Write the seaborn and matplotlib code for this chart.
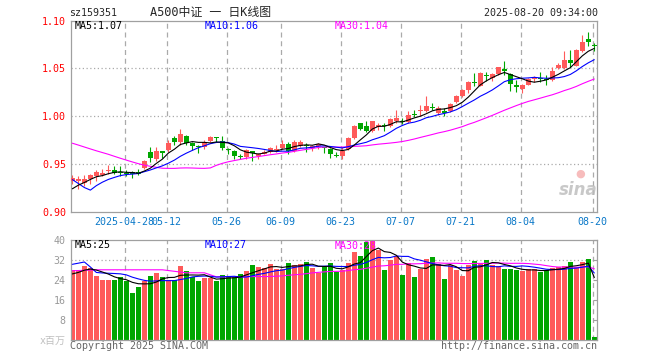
import numpy as np
import pandas as pd
import matplotlib
matplotlib.use("Agg")
import matplotlib.pyplot as plt
import seaborn as sns

# ---------------- data ----------------
# closes of the 29 sessions before the window (used only for moving averages)
hist_close = [0.992, 0.995, 0.998, 1.001, 0.996, 0.999, 1.004, 1.002, 0.998, 0.997,
              0.995, 0.999, 0.993, 0.995, 0.991, 0.976, 0.973, 0.970, 0.968, 0.973,
              0.975, 0.976, 0.965, 0.895, 0.905, 0.915, 0.920, 0.922, 0.928]
hist_vol = [25.1, 26.5, 25.8, 22.7, 24.0, 24.0, 24.0, 25.2, 23.5, 18.8,
            21.2, 23.7, 25.5, 26.9, 25.1, 32.9, 33.0, 38.6, 36.5, 25.2,
            23.6, 24.8, 48.8, 47.5, 26.0, 25.1, 25.1, 26.5, 27.7]

open_ = [0.932, 0.932, 0.930, 0.934, 0.937, 0.938, 0.943, 0.944, 0.942, 0.941,
         0.941, 0.942, 0.946, 0.962, 0.955, 0.963, 0.965, 0.977, 0.973, 0.979,
         0.972, 0.969, 0.968, 0.974, 0.9775, 0.974, 0.966, 0.964, 0.958, 0.957,
         0.963, 0.958, 0.960, 0.963, 0.965, 0.967, 0.971, 0.964, 0.969, 0.970,
         0.967, 0.969, 0.968, 0.966, 0.959, 0.958, 0.966, 0.977, 0.993, 0.990,
         0.984, 0.989, 0.991, 0.990, 0.995, 0.995, 0.994, 1.002, 1.005, 1.005,
         1.010, 1.003, 1.005, 1.005, 1.015, 1.021, 1.027, 1.036, 1.032, 1.043,
         1.040, 1.044, 1.049, 1.044, 1.033, 1.028, 1.033, 1.039, 1.040, 1.039,
         1.038, 1.050, 1.050, 1.059, 1.053, 1.068, 1.081, 1.075]
high = [0.938, 0.937, 0.938, 0.939, 0.944, 0.945, 0.949, 0.948, 0.948, 0.944,
        0.943, 0.945, 0.9545, 0.968, 0.968, 0.964, 0.975, 0.979, 0.987, 0.980,
        0.973, 0.970, 0.975, 0.979, 0.978, 0.979, 0.967, 0.965, 0.960, 0.966,
        0.964, 0.961, 0.965, 0.968, 0.970, 0.975, 0.973, 0.975, 0.975, 0.972,
        0.970, 0.972, 0.968, 0.967, 0.963, 0.968, 0.978, 0.991, 0.993, 0.995,
        0.995, 0.993, 0.993, 0.998, 1.007, 0.998, 1.005, 1.007, 1.012, 1.021,
        1.014, 1.011, 1.009, 1.014, 1.022, 1.028, 1.037, 1.045, 1.046, 1.046,
        1.045, 1.051, 1.058, 1.045, 1.038, 1.034, 1.040, 1.042, 1.046, 1.043,
        1.051, 1.056, 1.068, 1.069, 1.070, 1.085, 1.088, 1.077]
low = [0.929, 0.924, 0.927, 0.929, 0.932, 0.937, 0.940, 0.939, 0.937, 0.937,
       0.935, 0.938, 0.945, 0.952, 0.953, 0.956, 0.963, 0.970, 0.970, 0.970,
       0.965, 0.961, 0.966, 0.973, 0.973, 0.965, 0.960, 0.955, 0.955, 0.955,
       0.953, 0.955, 0.960, 0.961, 0.963, 0.966, 0.960, 0.963, 0.968, 0.963,
       0.964, 0.966, 0.961, 0.956, 0.957, 0.955, 0.965, 0.976, 0.986, 0.983,
       0.983, 0.986, 0.985, 0.989, 0.993, 0.992, 0.993, 0.999, 1.000, 1.004,
       1.007, 1.001, 1.000, 1.004, 1.014, 1.020, 1.024, 1.032, 1.032, 1.037,
       1.037, 1.043, 1.043, 1.026, 1.025, 1.024, 1.033, 1.036, 1.036, 1.033,
       1.037, 1.049, 1.049, 1.052, 1.053, 1.067, 1.074, 1.068]
close = [0.935, 0.934, 0.934, 0.938, 0.942, 0.941, 0.944, 0.941, 0.941, 0.939,
         0.940, 0.940, 0.953, 0.956, 0.964, 0.962, 0.972, 0.973, 0.981, 0.972,
         0.969, 0.968, 0.973, 0.978, 0.977, 0.967, 0.965, 0.958, 0.957, 0.965,
         0.962, 0.960, 0.963, 0.967, 0.966, 0.971, 0.964, 0.973, 0.973, 0.969,
         0.969, 0.971, 0.967, 0.960, 0.958, 0.964, 0.977, 0.990, 0.987, 0.984,
         0.995, 0.991, 0.990, 0.997, 0.998, 0.994, 1.001, 1.001, 1.006, 1.011,
         1.009, 1.009, 1.003, 1.013, 1.021, 1.027, 1.036, 1.035, 1.045, 1.042,
         1.044, 1.051, 1.047, 1.034, 1.031, 1.033, 1.039, 1.041, 1.039, 1.038,
         1.047, 1.054, 1.059, 1.056, 1.069, 1.078, 1.078, 1.074]
volume = [27.9, 28.1, 29.5, 28.8, 25.7, 24.0, 24.0, 24.0, 25.2, 23.5,
          18.8, 21.2, 23.7, 25.5, 26.9, 25.1, 23.9, 24.0, 29.6, 27.5,
          25.2, 23.6, 24.8, 24.8, 23.5, 26.0, 25.1, 25.1, 26.5, 27.7,
          30.1, 29.2, 28.8, 30.5, 28.4, 28.4, 30.9, 30.1, 30.5, 31.3,
          28.9, 26.9, 29.6, 31.0, 27.1, 27.9, 30.9, 35.2, 33.7, 39.2,
          39.7, 36.1, 28.1, 32.1, 33.5, 26.1, 30.8, 25.3, 28.5, 32.6,
          33.1, 30.6, 24.5, 30.2, 28.2, 25.5, 30.2, 31.5, 31.0, 32.2,
          30.2, 29.5, 28.3, 28.3, 27.9, 27.5, 28.3, 28.3, 27.1, 27.9,
          29.0, 29.4, 29.8, 31.2, 29.2, 31.2, 32.4, 1.1]

tick_index = [9, 16, 26, 35, 45, 55, 65, 75, 87]
tick_labels = ["2025-04-28", "05-12", "05-26", "06-09", "06-23",
               "07-07", "07-21", "08-04", "08-20"]
price_ticks = [0.90, 0.95, 1.00, 1.05, 1.10]
vol_ticks = [0, 8, 16, 24, 32, 40]
vol_tick_labels = ["x百万", "8", "16", "24", "32", "40"]

# ---------------- style ----------------
sns.set_style("white")
plt.rcParams['font.family'] = ['DejaVu Sans Mono', 'Noto Sans CJK SC']
RED = "#ff5a5a"
GREEN = "#00a600"
GRID = "#aaaaaa"
FRAME = "#a0a0a0"
FS = 7.2

W, H = 660, 360
fig = plt.figure(figsize=(6.6, 3.6), dpi=100)
fig.patch.set_facecolor("white")


def fx(x):
    return x / W


def fy(y):
    return 1 - y / H


L, R = 70.7, 597.3
axp = fig.add_axes([fx(L), fy(211.7), (R - L) / W, (211.7 - 20.7) / H])
axv = fig.add_axes([fx(L), fy(340.2), (R - L) / W, (340.2 - 240.0) / H])

n = len(close)
idx = np.arange(n)
o = np.array(open_)
c = np.array(close)
hi = np.array(high)
lo = np.array(low)
v = np.array(volume)
up = c >= o
cols = np.where(up, RED, GREEN)

all_c = pd.Series(hist_close + close)
all_v = pd.Series(hist_vol + volume)
k = len(hist_close)
ma = {w: all_c.rolling(w).mean().iloc[k:].to_numpy() for w in (5, 10, 30)}
vma = {w: all_v.rolling(w).mean().iloc[k:].to_numpy() for w in (5, 10, 30)}
ma_cols = {5: "black", 10: "#0000ff", 30: "#ff00ff"}

XMIN, XMAX = -0.28, 87.5
grid_x = [t - 0.3 for t in tick_index]

# ---------------- price panel ----------------
for ax in (axp, axv):
    ax.set_xlim(XMIN, XMAX)
    for x in grid_x:
        ax.axvline(x, color=GRID, lw=0.9, ls=(0, (4, 3)), zorder=0)
    for s in ax.spines.values():
        s.set_color(FRAME)
        s.set_linewidth(0.9)
        s.set_visible(True)

for y in (0.95, 1.00, 1.05):
    axp.axhline(y, color=GRID, lw=0.9, ls=(0, (1, 2)), zorder=0)

axp.vlines(idx, lo, hi, colors=cols, lw=0.8, zorder=2)
diff = np.abs(c - o)
mid = (c + o) / 2
bh = np.maximum(diff, 0.0011)
bottom = np.where(diff < 0.0011, mid - 0.00055, np.minimum(o, c))
axp.bar(idx, bh, bottom=bottom, width=0.75, color=cols, linewidth=0, zorder=3)

for w in (30, 10, 5):
    sns.lineplot(x=idx, y=ma[w], color=ma_cols[w], lw=0.8, ax=axp, zorder=4)

axp.set_ylim(0.90, 1.10)
axp.set_yticks(price_ticks)
axp.set_yticklabels([f"{t:.2f}" for t in price_ticks], color="#ff0000", fontsize=FS)
axp.set_xticks(grid_x)
axp.set_xticklabels(tick_labels, color="#0a78c8", fontsize=FS)
axp.tick_params(axis="both", length=0)
axp.tick_params(axis="y", pad=3.3)
axp.tick_params(axis="x", pad=3.5)
axp.set_xlim(XMIN, XMAX)
axp.set_xlabel("")
axp.set_ylabel("")

# ---------------- volume panel ----------------
axv.axhline(32, color=GRID, lw=0.9, ls=(0, (1, 2)), zorder=0)
vdf = pd.DataFrame({"i": idx, "vol": v, "dir": np.where(up, "up", "down")})
sns.barplot(data=vdf, x="i", y="vol", hue="dir", palette={"up": RED, "down": GREEN},
            native_scale=True, dodge=False, width=0.83, errorbar=None,
            saturation=1, legend=False, linewidth=0, ax=axv, zorder=2)
for w in (30, 10, 5):
    sns.lineplot(x=idx, y=vma[w], color=ma_cols[w], lw=0.8, ax=axv, zorder=4)
axv.set_xlim(XMIN, XMAX)
axv.set_ylim(0, 40)
axv.set_xticks(grid_x)
axv.set_xticklabels([])
axv.set_yticks(vol_ticks)
axv.set_yticklabels(vol_tick_labels, fontsize=FS, color="#999999")
axv.get_yticklabels()[0].set_color("#c0c0c0")
axv.tick_params(axis="x", length=0)
axv.tick_params(axis="y", left=False, right=True, direction="in", length=3,
                color=FRAME, pad=3.8)
axv.set_xlabel("")
axv.set_ylabel("")

# ---------------- texts ----------------
fig.text(fx(69.5), fy(12.5), "sz159351", fontsize=FS, va="center", ha="left")
fig.text(fx(150.5), fy(12.5), "A500中证 一 日K线图", fontsize=8.6, va="center", ha="left")
fig.text(fx(597.5), fy(12.5), "2025-08-20 09:34:00", fontsize=FS, va="center", ha="right")

fig.text(fx(74.5), fy(26), f"MA5:{ma[5][-1]:.2f}", fontsize=FS, va="center", color="black")
fig.text(fx(205), fy(26), f"MA10:{ma[10][-1]:.2f}", fontsize=FS, va="center", color="#0000ff")
fig.text(fx(334.5), fy(26), f"MA30:{ma[30][-1]:.2f}", fontsize=FS, va="center", color="#ff00ff")

fig.text(fx(74.7), fy(245.5), f"MA5:{vma[5][-1]:.0f}", fontsize=FS, va="center", color="black")
fig.text(fx(204.7), fy(245.5), f"MA10:{vma[10][-1]:.0f}", fontsize=FS, va="center", color="#0000ff")
fig.text(fx(335), fy(246), f"MA30:{vma[30][-1]:.0f}", fontsize=FS, va="center", color="#ff00ff",
         zorder=10)

fig.text(fx(70), fy(346), "Copyright 2025 SINA.COM", fontsize=FS, va="center",
         ha="left", color="#666666")
fig.text(fx(597), fy(346), "http://finance.sina.com.cn", fontsize=FS, va="center",
         ha="right", color="#666666")

fig.text(fx(578), fy(190), "sina", fontsize=12, fontstyle="italic", fontweight="bold",
         family="DejaVu Sans", color="#bbbbbb", alpha=0.8, ha="center", va="center")
fig.text(fx(580), fy(174), "●", fontsize=8, family="DejaVu Sans", color="#f4a0a0",
         alpha=0.7, ha="center", va="center")

fig.savefig("out.png", dpi=100)
